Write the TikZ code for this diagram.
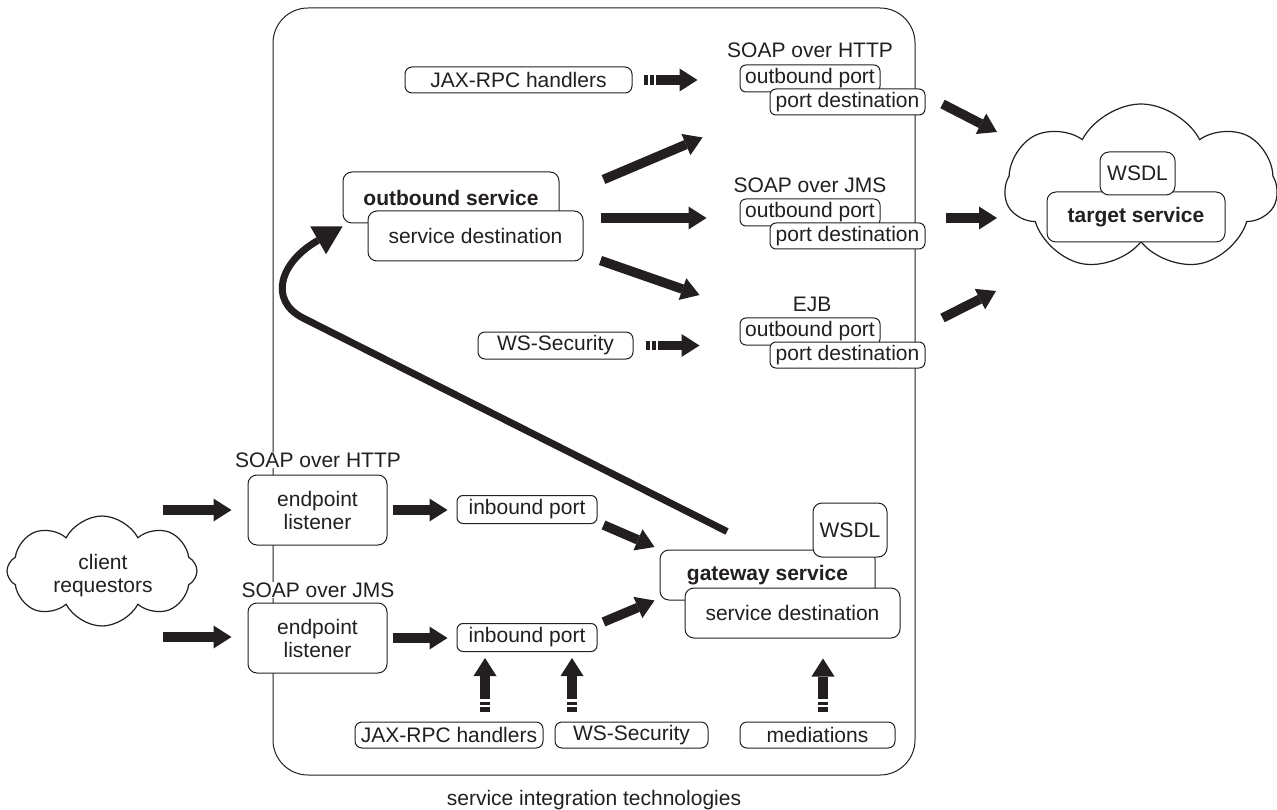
\documentclass[tikz,border=0pt]{standalone}
\usepackage{fontspec}
\setmainfont{Liberation Sans}
\usetikzlibrary{arrows.meta,calc,shapes.symbols}
\definecolor{ink}{HTML}{231F20}
\begin{document}
\begin{tikzpicture}[x=1pt,y=-1pt,
  txt/.style={font=\fontsize{21}{23}\selectfont, text=ink, inner sep=1pt},
  lbl/.style={txt, fill=white},
  box/.style 2 args={txt, draw=ink, line width=1pt, fill=white, rounded corners=9pt, minimum width=#1pt, minimum height=#2pt, inner sep=0pt},
  pbox/.style 2 args={box={#1}{#2}, rounded corners=6pt},
  bold/.style={font=\fontsize{21}{23}\selectfont\bfseries},
  fat/.style={draw=ink, line width=9.5pt, -{Triangle[length=18pt,width=23pt,line width=0pt]}},
  dfat/.style={fat, dash pattern=on 4.5pt off 2pt on 3.5pt off 2.5pt on 800pt},
  bigcurve/.style={draw=ink, line width=7pt, -{Triangle[length=28pt,width=32pt,line width=0pt]}},
  cloudshape/.style={cloud, cloud puffs=#1, cloud puff arc=125, draw=ink, line width=1.2pt, fill=white, inner sep=0pt}
]
\useasboundingbox (0,0) rectangle (1277,810);

% container
\node[draw=ink, line width=1pt, rounded corners=35pt, minimum width=642pt, minimum height=767pt, inner sep=0pt] (cont) at (594,391.5) {};
\node[txt] (sit) at (594,800) {service integration technologies};

% target cloud
\node[cloudshape=7, shape border rotate=12, minimum width=272pt, minimum height=168pt] (tc) at (1141,188) {};
\node[box={178}{50}, bold] (tsT) at (1136,217) {target service};
\node[box={75}{43}] (wsdlT) at (1137.5,173.5) {WSDL};

% client cloud
\node[cloudshape=8, minimum width=190pt, minimum height=110pt] (cl) at (102,571) {};
\node[txt, align=center] (clT) at (103,576) {client\\requestors};

% inbound side
\node[lbl] (httpL) at (318,460) {SOAP over HTTP};
\node[box={139}{70}, align=center] (el1) at (317.5,510) {endpoint\\listener};
\node[lbl] (jmsL) at (318,590) {SOAP over JMS};
\node[box={139}{70}, align=center] (el2) at (317.5,638) {endpoint\\listener};
\node[pbox={140}{28}] (ip1) at (527,509.5) {inbound port};
\node[pbox={140}{28}] (ip2) at (527,637.5) {inbound port};

\node[box={215}{50}, bold] (gw) at (767.5,575) {gateway service};
\node[box={74}{54}] (wsdlG) at (850,530) {WSDL};
\node[box={215}{50}] (sd2) at (792.5,613) {service destination};

\node[box={188}{26}, rounded corners=7pt] (jaxB) at (449,735) {JAX-RPC handlers};
\node[box={153}{26}, rounded corners=7pt] (wsB) at (631.5,735) {WS-Security};
\node[box={155}{26}, rounded corners=7pt] (medB) at (817.5,735) {mediations};

% outbound side
\node[box={216}{51}, bold] (os) at (451,197.5) {outbound service};
\node[box={215}{50}] (sd1) at (475.5,236) {service destination};
\node[box={227}{26}, rounded corners=7pt] (jaxT) at (518.5,80) {JAX-RPC handlers};
\node[box={155}{27}, rounded corners=7pt] (wsT) at (555.5,345.5) {WS-Security};

\node[txt] (httpR) at (810,50) {SOAP over HTTP};
\node[pbox={140}{27}] (op1) at (810,78.5) {outbound port};
\node[pbox={155}{26}] (pd1) at (847.5,102) {port destination};
\node[txt] (jmsR) at (810,185) {SOAP over JMS};
\node[pbox={140}{27}] (op2) at (810,212.5) {outbound port};
\node[pbox={155}{26}] (pd2) at (847.5,236) {port destination};
\node[txt] (ejbR) at (812,304) {EJB};
\node[pbox={140}{27}] (op3) at (810,331.5) {outbound port};
\node[pbox={155}{26}] (pd3) at (847.5,355) {port destination};

% arrows: inbound
\draw[fat] ($(el1.west)+(-85,0)$) -- ($(el1.west)+(-16,0)$);
\draw[fat] ($(el2.west)+(-85,-1)$) -- ($(el2.west)+(-16,-1)$);
\draw[fat] ($(el1.east)+(5,0)$) -- ($(el1.east -| ip1.west)+(-9,0)$);
\draw[fat] ($(el2.east)+(5,0)$) -- ($(el2.east -| ip2.west)+(-9,0)$);
\draw[fat] ($(ip1.east)+(6,15.5)$) -- ($(gw.west)+(-5,-28)$);
\draw[fat] ($(ip2.east)+(6,-15.5)$) -- ($(gw.south west)+(-5,0)$);

\draw[dfat] ($(jaxB.north)+(36,-10)$) -- ($(ip2.south -| jaxB.north)+(36,6)$);
\draw[dfat] ($(wsB.north)+(-59.5,-10)$) -- ($(ip2.south -| wsB.north)+(-59.5,6)$);
\draw[dfat] ($(medB.north)+(5.5,-10)$) -- ($(sd2.south -| medB.north)+(5.5,20)$);

% gateway -> outbound service
\draw[bigcurve] ($(gw.north)+(-40.5,-18)$) -- (303,318) .. controls (268,300) and (280,262) .. ($(os.south west)+(0,3)$);

% arrows: outbound
\draw[fat] ($(os.north east)+(44,8)$) -- ($(pd1.south west)+(-67,22)$);
\draw[fat] ($(sd1.east)+(17,-18)$) -- ($(sd1.east -| op2.west)+(-33,-18)$);
\draw[fat] ($(sd1.south east)+(17,-1)$) -- ($(op3.west)+(-40,-36.5)$);
\draw[dfat] ($(jaxT.east)+(11,0)$) -- ($(jaxT.east -| op1.west)+(-42,0)$);
\draw[dfat] ($(wsT.east)+(12,0)$) -- ($(wsT.east -| op3.west)+(-40,0)$);

% to target cloud
\draw[fat] ($(pd1.east)+(17,2)$) -- ($(tc.center)+(-144,-56)$);
\draw[fat] ($(pd2.east)+(20,-18)$) -- ($(tc.center)+(-144,30)$);
\draw[fat] ($(pd3.east)+(17,-37)$) -- ($(tc.center)+(-145,103)$);
\end{tikzpicture}
\end{document}
